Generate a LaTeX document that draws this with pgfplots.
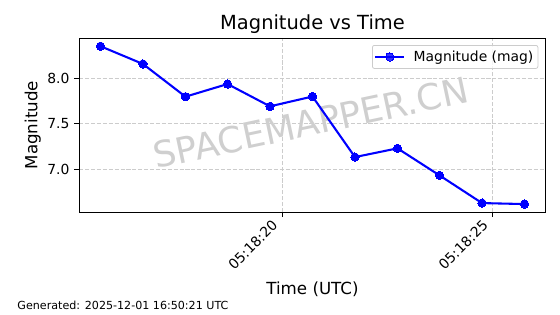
\documentclass[border=0pt]{standalone}
\usepackage{fontspec}
\setmainfont{DejaVu Sans}
\usepackage{pgfplots}
\pgfplotsset{compat=1.18}
\definecolor{wm}{rgb}{0.81,0.81,0.81}
\pgfplotstableread{
t m
15.68 8.352
16.69 8.157
17.70 7.798
18.70 7.937
19.71 7.692
20.72 7.800
21.73 7.135
22.74 7.231
23.74 6.934
24.75 6.630
25.76 6.619
}\magdata
\begin{document}
\begin{tikzpicture}
\begin{axis}[
  name=ax, at={(0pt,0pt)}, anchor=south west,
  scale only axis, width=466.4pt, height=173.7pt,
  xmin=15.176, xmax=26.264, ymin=6.532, ymax=8.439,
  xtick={20,25}, xticklabels={05:18:20,05:18:25},
  ytick={7,7.5,8}, yticklabels={7.0,7.5,8.0},
  tick pos=left, tick align=outside, major tick length=4.86pt,
  tick style={black, line width=0.9pt},
  axis line style={line width=0.9pt},
  /pgf/number format/assume math mode=true,
  tick label style={font=\fontsize{13.89}{16}\selectfont},
  xticklabel style={xshift=-11pt, yshift=-2pt, rotate=45, anchor=north east, inner sep=0pt},
  yticklabel style={inner sep=0pt, xshift=-4.86pt},
  grid=major,
  major grid style={dash pattern=on 4.1pt off 1.8pt, color=black!20, line width=0.8pt},
  every axis title shift=0pt,
  title={Magnitude vs Time},
  title style={font=\fontsize{19.44}{23}\selectfont, at={(axis description cs:0.5,1.048)}, anchor=base},
  xlabel={Time (UTC)},
  xlabel style={font=\fontsize{16.67}{20}\selectfont, at={(axis description cs:0.5,-0.4738)}, anchor=base},
  ylabel={Magnitude},
  ylabel style={font=\fontsize{16.67}{20}\selectfont, at={(axis description cs:-0.0999,0.5)}, anchor=center},
  legend style={at={(axis description cs:1,1)}, xshift=-7.4pt, yshift=-6.7pt, anchor=north east,
    draw=black!20, line width=0.8pt, rounded corners=2pt, fill=white, fill opacity=0.8, text opacity=1,
    font=\fontsize{13.89}{16}\selectfont, inner xsep=2pt, inner ysep=3pt,
    nodes={inner sep=2.5pt}, column sep=6pt},
  legend cell align=left,
  legend image code/.code={\draw[mark repeat=2,mark phase=2,#1] plot coordinates {(0pt,0pt) (14.35pt,0pt) (28.7pt,0pt)};},
]
\node[rotate=12, text=wm, font=\fontsize{35.8}{40}\selectfont, anchor=center] at (axis description cs:0.4959,0.514) {SPACEMAPPER.CN};
\addplot[color=blue, line width=2.08pt, mark=*, mark size=4.17pt, mark options={fill=blue, draw=blue, line width=0pt}] table[x=t, y=m] {\magdata};
\addlegendentry{Magnitude (mag)}
\end{axis}
\node[anchor=base west, inner sep=0pt, font=\fontsize{11.11}{13}\selectfont] at (-62.0pt,-97.3pt) {Generated: 2025-12-01 16:50:21 UTC};
\pgfresetboundingbox
\path (-79.3pt,-102pt) rectangle (480.7pt,212pt);
\end{tikzpicture}
\end{document}
